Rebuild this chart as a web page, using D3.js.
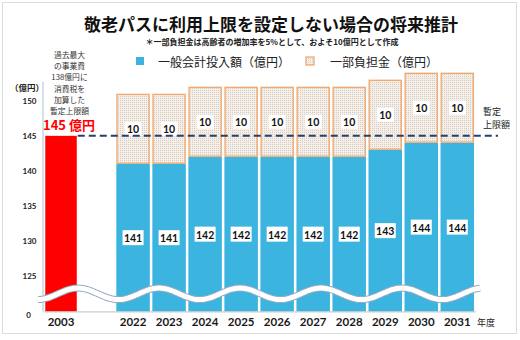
<!DOCTYPE html>
<html>
<head>
<meta charset="utf-8">
<script src="https://cdn.jsdelivr.net/npm/d3@7/dist/d3.min.js"></script>
<style>
  html, body { margin: 0; padding: 0; background: #fff; }
  svg { display: block; }
  .jp { font-family: "Noto Sans CJK JP", "Noto Sans", sans-serif; }
  .num { font-family: Lato, "Liberation Sans", sans-serif; font-weight: bold; }
</style>
</head>
<body>
<svg id="chart" width="520" height="340"></svg>
<script>
// Fiscal years and values (億円)
const pastYear = "2003";
const pastCap = 145;                 // 過去最大の事業費138億円 + 消費税 = 暫定上限額
const years = ["2022", "2023", "2024", "2025", "2026", "2027", "2028", "2029", "2030", "2031"];
const generalFund = [141, 141, 142, 142, 142, 142, 142, 143, 144, 144];  // 一般会計投入額
const copay = [10, 10, 10, 10, 10, 10, 10, 10, 10, 10];                 // 一部負担金
const yTicks = [120, 125, 130, 135, 140, 145, 150];
const yTickLabels = ["0", "125", "130", "135", "140", "145", "150"];   // broken axis: bottom reads 0
const axisBase = 120;
const breakValue = 122.5;

const svg = d3.select("#chart");
const BLUE = "#3CB4E0", ORANGE = "#F2AA72", NAVY = "#23406E";

// page frame
svg.append("rect").attr("x", 2.5).attr("y", 2.5).attr("width", 514).attr("height", 331)
  .attr("fill", "none").attr("stroke", "#dcdcdc").attr("stroke-width", 1);

// dotted beige fill for the co-payment segments
const defs = svg.append("defs");
const pat = defs.append("pattern").attr("id", "dots").attr("patternUnits", "userSpaceOnUse")
  .attr("width", 2).attr("height", 2);
pat.append("rect").attr("width", 2).attr("height", 2).attr("fill", "#f4efe8");
pat.append("rect").attr("width", 1).attr("height", 1).attr("fill", "#d6cdc0");

// scales
const x = d3.scaleBand()
  .domain([pastYear, "gap", ...years])
  .range([43, 475.3])
  .paddingInner(0.07)
  .paddingOuter(0.035);
const y = d3.scaleLinear().domain([120, 155]).range([311.4, 65.6]);

// title, note, legend
svg.append("text").attr("class", "jp").attr("x", 271).attr("y", 23.5)
  .attr("text-anchor", "middle").attr("dominant-baseline", "central")
  .attr("font-size", 17).attr("font-weight", "bold").attr("fill", "#111")
  .text("敬老パスに利用上限を設定しない場合の将来推計");
svg.append("text").attr("class", "jp").attr("x", 272).attr("y", 41)
  .attr("text-anchor", "middle").attr("dominant-baseline", "central")
  .attr("font-size", 8).attr("font-weight", "bold").attr("fill", "#222")
  .text("＊一部負担金は高齢者の増加率を5%として、およそ10億円として作成");

const legend = [
  { label: "一般会計投入額（億円）", sx: 136, tx: 158, fill: BLUE, stroke: "none" },
  { label: "一部負担金（億円）", sx: 306, tx: 330, fill: "url(#dots)", stroke: ORANGE }
];
legend.forEach(d => {
  svg.append("rect").attr("x", d.sx).attr("y", 57).attr("width", 8).attr("height", 8)
    .attr("fill", d.fill).attr("stroke", d.stroke).attr("stroke-width", 1.3);
  svg.append("text").attr("class", "jp").attr("x", d.tx).attr("y", 61)
    .attr("dominant-baseline", "central").attr("font-size", 12).attr("fill", "#222")
    .text(d.label);
});

// y axis unit
svg.append("text").attr("class", "jp").attr("x", 27).attr("y", 87)
  .attr("text-anchor", "middle").attr("dominant-baseline", "central")
  .attr("font-size", 8.5).attr("font-weight", "bold").attr("fill", "#222").text("（億円）");

// y tick labels
yTicks.forEach((t, i) => {
  const isBase = t === axisBase;
  svg.append("text").attr("class", "num")
    .attr("x", isBase ? 31 : 36.5).attr("y", y(t) + (isBase ? 3.5 : 0))
    .attr("text-anchor", "end").attr("dominant-baseline", "central")
    .attr("font-size", 8).attr("fill", "#222").text(yTickLabels[i]);
});

// 2003 bar: the provisional cap
svg.append("rect").attr("x", x(pastYear) + 1).attr("width", x.bandwidth() - 2)
  .attr("y", y(pastCap)).attr("height", y(axisBase) - y(pastCap)).attr("fill", "#ff0000");

// projected bars, stacked: general fund + co-payment
const rows = years.map((yr, i) => ({ yr, a: generalFund[i], b: copay[i] }));
const g = svg.append("g");
g.selectAll("rect.fund").data(rows).join("rect").attr("class", "fund")
  .attr("x", d => x(d.yr)).attr("width", x.bandwidth())
  .attr("y", d => y(d.a)).attr("height", d => y(axisBase) - y(d.a)).attr("fill", BLUE);
g.selectAll("rect.copay").data(rows).join("rect").attr("class", "copay")
  .attr("x", d => x(d.yr) + 0.7).attr("width", x.bandwidth() - 1.4)
  .attr("y", d => y(d.a + d.b) + 0.7).attr("height", d => y(d.a) - y(d.a + d.b) - 1.4)
  .attr("fill", "url(#dots)").attr("stroke", ORANGE).attr("stroke-width", 1.4);

// value labels in white boxes
function boxLabel(cx, cy, txt, w, h) {
  svg.append("rect").attr("x", cx - w / 2).attr("y", cy - h / 2).attr("width", w).attr("height", h)
    .attr("fill", "#fff");
  svg.append("text").attr("class", "num").attr("x", cx).attr("y", cy + 0.5)
    .attr("text-anchor", "middle").attr("dominant-baseline", "central")
    .attr("font-size", 10.5).attr("fill", "#111").text(txt);
}
rows.forEach(d => {
  const cx = x(d.yr) + x.bandwidth() / 2;
  boxLabel(cx, (y(axisBase) + y(d.a)) / 2, d3.format("d")(d.a), 21, 15);
  boxLabel(cx, (y(d.a) + y(d.a + d.b)) / 2, d3.format("d")(d.b), 17, 14);
});

// axes lines
svg.append("line").attr("x1", 43).attr("x2", 43).attr("y1", 82).attr("y2", y(axisBase))
  .attr("stroke", "#a9c1da").attr("stroke-width", 1);
const xAxis = svg.append("g").attr("transform", `translate(0,${y(axisBase)})`)
  .call(d3.axisBottom(x).tickValues([pastYear, ...years]).tickSize(0).tickSizeOuter(0).tickPadding(8));
xAxis.select(".domain").attr("stroke", "#c0c0c0");
xAxis.selectAll("text").attr("class", "num").attr("font-size", 11.5).attr("fill", "#1a1a1a")
  .attr("dy", "0.55em");
svg.append("text").attr("class", "jp").attr("x", 477).attr("y", 322.5)
  .attr("dominant-baseline", "central").attr("font-size", 9).attr("fill", "#222").text("年度");

// axis break wave
const wavePts = d3.range(38, 481, 2).map(px => [px, y(breakValue) - 5.8 * Math.cos(2 * Math.PI * (px - 78) / 81)]);
const wave = d3.line().curve(d3.curveBasis);
svg.append("path").attr("d", wave(wavePts)).attr("fill", "none")
  .attr("stroke", "#97a9c0").attr("stroke-width", 7);
svg.append("path").attr("d", wave(wavePts)).attr("fill", "none")
  .attr("stroke", "#ffffff").attr("stroke-width", 5);

// provisional cap line
svg.append("line").attr("x1", x(pastYear) + x.bandwidth()).attr("x2", 498)
  .attr("y1", y(pastCap)).attr("y2", y(pastCap))
  .attr("stroke", NAVY).attr("stroke-width", 2).attr("stroke-dasharray", "7,4");
svg.append("text").attr("class", "jp").attr("x", 483).attr("y", 111)
  .attr("dominant-baseline", "central").attr("font-size", 9).attr("fill", "#222").text("暫定");
svg.append("text").attr("class", "jp").attr("x", 483).attr("y", 124)
  .attr("dominant-baseline", "central").attr("font-size", 9).attr("fill", "#222").text("上限額");

// note for the 2003 bar
const note = ["過去最大", "の事業費", "138億円に", "消費税を", "加算した", "暫定上限額"];
note.forEach((t, i) => {
  svg.append("text").attr("class", "jp").attr("x", 69.5).attr("y", 54.5 + i * 11.2)
    .attr("text-anchor", "middle").attr("dominant-baseline", "central")
    .attr("font-size", 7.8).attr("fill", "#333").text(t);
});
svg.append("text").attr("class", "jp").attr("x", 69).attr("y", 124)
  .attr("text-anchor", "middle").attr("dominant-baseline", "central")
  .attr("font-size", 13).attr("font-weight", "bold").attr("fill", "#ff0000")
  .text(pastCap + " 億円");
</script>
</body>
</html>
